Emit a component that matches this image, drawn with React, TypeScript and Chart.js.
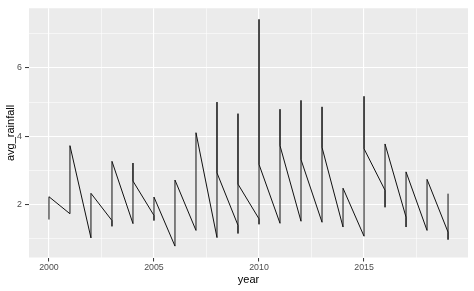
import React, { useEffect, useRef } from "react";
import { Chart, registerables } from "chart.js";

Chart.register(...registerables);

const years = [2000, 2001, 2002, 2003, 2004, 2005, 2006, 2007, 2008, 2009, 2010, 2011, 2012, 2013, 2014, 2015, 2016, 2017, 2018, 2019];
// value where the line enters each year, lowest and highest value of the year, value where it leaves
const firstVals = [1.55, 1.72, 1.01, 1.52, 1.43, 1.67, 0.77, 1.23, 1.02, 1.38, 1.57, 1.44, 1.5, 1.47, 1.33, 1.06, 2.41, 1.62, 1.23, 1.18];
const lowVals = [1.55, 1.72, 1.01, 1.35, 1.43, 1.52, 0.77, 1.23, 1.02, 1.14, 1.41, 1.44, 1.5, 1.47, 1.33, 1.06, 1.91, 1.33, 1.23, 0.96];
const highVals = [2.22, 3.72, 2.32, 3.26, 3.21, 2.21, 2.71, 4.1, 5.0, 4.66, 7.43, 4.79, 5.05, 4.86, 2.47, 5.17, 3.77, 2.95, 2.73, 2.31];
const lastVals = [2.22, 3.72, 2.32, 3.26, 2.68, 2.21, 2.71, 4.1, 2.92, 2.59, 3.17, 3.72, 3.31, 3.67, 2.47, 3.63, 3.77, 2.95, 2.73, 2.31];

const xTicks = [2000, 2002.5, 2005, 2007.5, 2010, 2012.5, 2015, 2017.5];
const xLabels = [2000, 2005, 2010, 2015];
const yTicks = [1, 2, 3, 4, 5, 6, 7];
const yLabels = [2, 4, 6];

const FONT = "'Liberation Sans', Arial, Helvetica, sans-serif";

export default function App() {
  const ref = useRef<HTMLCanvasElement>(null);

  useEffect(() => {
    const points: { x: number; y: number }[] = [];
    years.forEach((yr, i) => {
      points.push({ x: yr, y: firstVals[i] });
      points.push({ x: yr, y: lowVals[i] });
      points.push({ x: yr, y: highVals[i] });
      points.push({ x: yr, y: lastVals[i] });
    });

    const panelBg = {
      id: "panelBg",
      beforeDraw(chart: any) {
        const { ctx, chartArea } = chart;
        ctx.save();
        ctx.fillStyle = "#EBEBEB";
        ctx.fillRect(chartArea.left, chartArea.top, chartArea.right - chartArea.left, chartArea.bottom - chartArea.top);
        ctx.restore();
      },
    };

    const chart = new Chart(ref.current!, {
      type: "line",
      data: {
        datasets: [
          {
            data: points,
            borderColor: "#111111",
            borderWidth: 1,
            pointRadius: 0,
            tension: 0,
            fill: false,
          },
        ],
      },
      options: {
        animation: false,
        responsive: false,
        devicePixelRatio: 1,
        layout: { padding: { top: 5, right: 6, left: 0, bottom: 0 } },
        plugins: { legend: { display: false }, tooltip: { enabled: false } },
        scales: {
          x: {
            type: "linear",
            min: 1999.05,
            max: 2019.95,
            afterBuildTicks: (s: any) => {
              s.ticks = xTicks.map((v) => ({ value: v }));
            },
            afterFit: (s: any) => {
              s.height = 33.5;
            },
            border: { display: false },
            grid: {
              color: "#FFFFFF",
              lineWidth: (c: any) => (xLabels.includes(c.tick?.value) ? 1.1 : 0.55),
              drawTicks: true,
              tickLength: 4,
              tickColor: (c: any) => (xLabels.includes(c.tick?.value) ? "#333333" : "rgba(0,0,0,0)"),
              tickWidth: 1,
            },
            ticks: {
              autoSkip: false,
              maxRotation: 0,
              padding: 1,
              color: "#4D4D4D",
              font: { family: FONT, size: 8.8 },
              callback: (v: any) => (xLabels.includes(Number(v)) ? String(v) : ""),
            },
            title: {
              display: true,
              text: "year",
              color: "#000000",
              font: { family: FONT, size: 11 },
              padding: { top: 0, bottom: 4.4 },
            },
          },
          y: {
            type: "linear",
            min: 0.435,
            max: 7.755,
            afterBuildTicks: (s: any) => {
              s.ticks = yTicks.map((v) => ({ value: v }));
            },
            afterFit: (s: any) => {
              s.width = 29;
            },
            border: { display: false },
            grid: {
              color: "#FFFFFF",
              lineWidth: (c: any) => (yLabels.includes(c.tick?.value) ? 1.1 : 0.55),
              drawTicks: true,
              tickLength: 4,
              tickColor: (c: any) => (yLabels.includes(c.tick?.value) ? "#333333" : "rgba(0,0,0,0)"),
              tickWidth: 1,
            },
            ticks: {
              autoSkip: false,
              padding: 3,
              color: "#4D4D4D",
              font: { family: FONT, size: 8.8 },
              callback: (v: any) => (yLabels.includes(Number(v)) ? String(v) : ""),
            },
            title: {
              display: true,
              text: "avg_rainfall",
              color: "#000000",
              font: { family: FONT, size: 11 },
              padding: { top: 4.4, bottom: 0 },
            },
          },
        },
      },
      plugins: [panelBg],
    });

    return () => chart.destroy();
  }, []);

  return (
    <div style={{ position: "fixed", left: 0, top: 0, width: 474, height: 291, background: "#FFFFFF" }}>
      <canvas ref={ref} width={474} height={291} style={{ display: "block", width: 474, height: 291 }} />
    </div>
  );
}
